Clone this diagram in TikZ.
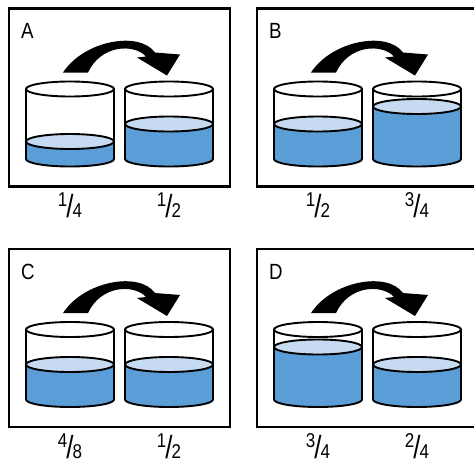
\documentclass[tikz,border=0pt]{standalone}
\usepackage{fontspec}
\usepackage{graphicx}
\setmainfont{Liberation Sans}[FakeStretch=0.85]

\definecolor{water}{RGB}{91,157,214}
\definecolor{surface}{RGB}{198,218,241}

\tikzset{
  frame/.style={line width=2.2pt},
  glassline/.style={line width=1.9pt, line join=round},
  tag/.style={font=\fontsize{22}{22}\selectfont, inner sep=0pt, anchor=base west},
  amount/.style={font=\fontsize{20}{20}\selectfont, inner sep=0pt, anchor=base},
}

% slanted fraction: raised numerator, tall thin slash
\newcommand\portion[2]{\raisebox{11pt}{#1}\kern-1pt\scalebox{0.95}[1]{\fontsize{32}{32}\selectfont/}\kern-1pt#2}

% glass: centre x, top y, filled share of the height
\newcommand\glass[3]{%
  \pgfmathsetmacro\lvl{#2+70-70*#3}
  \fill[water] (#1-44,\lvl) -- (#1-44,#2+70) arc[start angle=180,end angle=0,x radius=44,y radius=7.5] -- (#1+44,\lvl) -- cycle;
  \draw[glassline,fill=surface] (#1,\lvl) ellipse[x radius=44,y radius=7.5];
  \draw[glassline,fill=white] (#1,#2) ellipse[x radius=44,y radius=7.5];
  \draw[glassline] (#1-44,#2) -- (#1-44,#2+70) arc[start angle=180,end angle=0,x radius=44,y radius=7.5] -- (#1+44,#2);
}

% one panel: x, y, letter, left level, right level, left amount, right amount
\newcommand\panel[7]{%
  \begin{scope}[shift={(#1,#2)}]
    \draw[frame] (0,0) rectangle (221,178);
    \node[tag] (tag#3) at (12,30) {#3};
    % pouring arrow
    \fill (54,64) .. controls (75,32) and (130,22) .. (146,44) -- (171,46) -- (158,67) -- (128,49) -- (137,48)
      .. controls (125,35) and (92,36) .. (79,64) -- cycle;
    \glass{61}{80.5}{#4}
    \glass{160}{80.5}{#5}
    \node[amount] (amt#3l) at (61,209) {#6};
    \node[amount] (amt#3r) at (160,209) {#7};
  \end{scope}
}

\begin{document}
\begin{tikzpicture}[x=1pt,y=-1pt]
\useasboundingbox (0,0) rectangle (474,464);

\panel{9}{8.5}{A}{0.25}{0.5}{\portion{1}{4}}{\portion{1}{2}}
\panel{257}{8.5}{B}{0.5}{0.75}{\portion{1}{2}}{\portion{3}{4}}
\panel{9}{249}{C}{0.5}{0.5}{\portion{4}{8}}{\portion{1}{2}}
\panel{257}{249}{D}{0.75}{0.5}{\portion{3}{4}}{\portion{2}{4}}

\end{tikzpicture}
\end{document}
